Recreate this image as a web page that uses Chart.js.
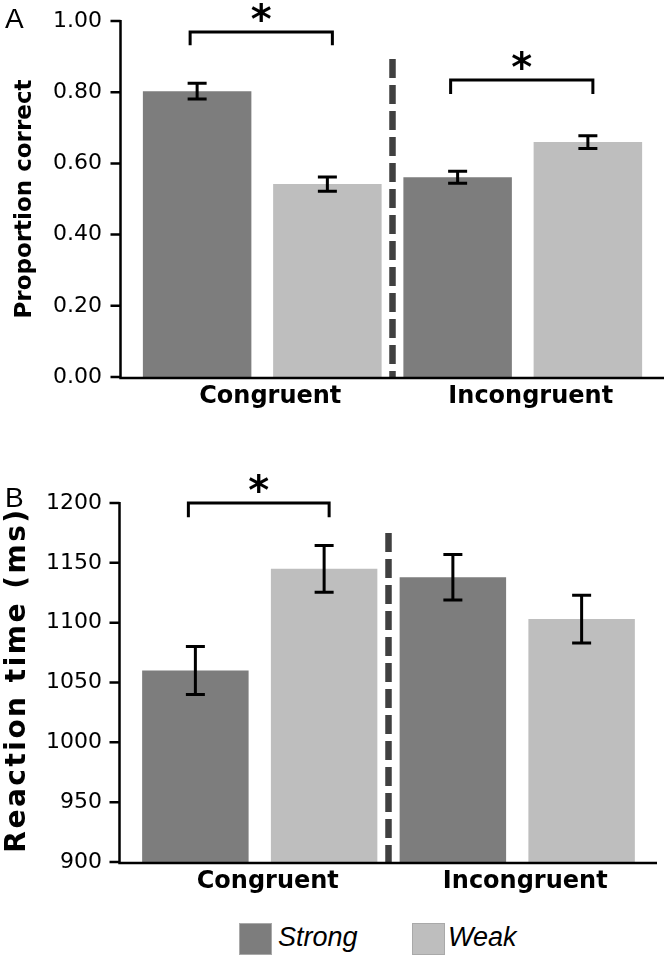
<!DOCTYPE html>
<html><head><meta charset="utf-8">
<script src="https://cdn.jsdelivr.net/npm/chart.js@4.4.1/dist/chart.umd.min.js"></script>
<style>
html,body{margin:0;padding:0;background:#fff;overflow:hidden;width:666px;height:960px;}
#wrap{position:relative;width:666px;height:960px;}
canvas{position:absolute;left:0;display:block;}
#cA{top:0;} #cB{top:440px;}
.lg-box{position:absolute;width:33px;height:32px;box-sizing:border-box;border:1px solid #a9a9a9;}
.lg-txt{position:absolute;font:italic 27px "Liberation Sans",Arial,sans-serif;line-height:27px;color:#000;white-space:nowrap;}
</style></head><body>
<div id="wrap">
<canvas id="cA" width="666" height="430"></canvas>
<canvas id="cB" width="666" height="480"></canvas>
<div id="legend"></div>
</div>
<script>
// ---------------- data ----------------
const categories = ['Congruent', 'Incongruent'];
const seriesNames = ['Strong', 'Weak'];
// Panel A: proportion correct
const propStrong = [0.803, 0.561];
const propWeak = [0.542, 0.660];
const propStrongErr = [0.022, 0.017];
const propWeakErr = [0.020, 0.018];
const propTickLabels = ['0.00', '0.20', '0.40', '0.60', '0.80', '1.00'];
// Panel B: reaction time (ms)
const rtStrong = [1060, 1138];
const rtWeak = [1145, 1103];
const rtStrongErr = [20, 19];
const rtWeakErr = [19.5, 20];
const rtTickLabels = ['900', '950', '1000', '1050', '1100', '1150', '1200'];
// significance brackets (category index, bracket level, leg drop) and separator tops
const sigA = [{category: 0, level: 0.969, drop: 0.037}, {category: 1, level: 0.834, drop: 0.039}];
const sigB = [{category: 0, level: 1200, drop: 12}];
const sepTopA = 0.893;
const sepTopB = 1175;

// ---------------- styles ----------------
const COL_STRONG = '#7d7d7d';
const COL_WEAK = '#bebebe';
Chart.defaults.font.family = '"DejaVu Sans"';
Chart.defaults.color = '#000';

function figurePlugin(cfg) {
  return {
    id: 'figure' + cfg.letter,
    afterDatasetsDraw(chart) {
      const {ctx, chartArea} = chart;
      const xs = chart.scales.x, ys = chart.scales.y;
      ctx.save();
      // dashed separator between categories
      const sepX = (xs.getPixelForValue(0) + xs.getPixelForValue(1)) / 2;
      ctx.strokeStyle = '#404040';
      ctx.lineWidth = 6.5;
      ctx.setLineDash([19, 7]);
      ctx.beginPath();
      ctx.moveTo(sepX, ys.getPixelForValue(cfg.sepTop));
      ctx.lineTo(sepX, chartArea.bottom);
      ctx.stroke();
      ctx.setLineDash([]);
      // error bars
      ctx.strokeStyle = '#000';
      ctx.lineWidth = 3;
      cfg.errors.forEach((errs, di) => {
        const meta = chart.getDatasetMeta(di);
        const vals = chart.data.datasets[di].data;
        meta.data.forEach((bar, j) => {
          const yT = ys.getPixelForValue(vals[j] + errs[j]);
          const yB = ys.getPixelForValue(vals[j] - errs[j]);
          const x = bar.x;
          ctx.beginPath();
          ctx.moveTo(x, yT); ctx.lineTo(x, yB);
          ctx.moveTo(x - 9.5, yT); ctx.lineTo(x + 9.5, yT);
          ctx.moveTo(x - 9.5, yB); ctx.lineTo(x + 9.5, yB);
          ctx.stroke();
        });
      });
      // axes
      const ax = chartArea.left - 11.5;
      ctx.lineWidth = 2.5;
      ctx.beginPath();
      ctx.moveTo(ax, ys.getPixelForValue(ys.max) - 1);
      ctx.lineTo(ax, chartArea.bottom + 1.25);
      ys.ticks.forEach(t => {
        const y = ys.getPixelForValue(t.value);
        ctx.moveTo(ax - 10, y); ctx.lineTo(ax, y);
      });
      ctx.moveTo(ax - 1.25, chartArea.bottom + 1);
      ctx.lineTo(chartArea.right + 11, chartArea.bottom + 1);
      ctx.stroke();
      // significance brackets and stars
      ctx.lineWidth = 3;
      cfg.sig.forEach(s => {
        const xL = chart.getDatasetMeta(0).data[s.category].x - 7;
        const xR = chart.getDatasetMeta(1).data[s.category].x + 5;
        const yL = ys.getPixelForValue(s.level);
        const yD = ys.getPixelForValue(s.level - s.drop);
        ctx.beginPath();
        ctx.moveTo(xL, yD); ctx.lineTo(xL, yL); ctx.lineTo(xR, yL); ctx.lineTo(xR, yD);
        ctx.stroke();
        ctx.font = 'bold 40px "DejaVu Sans"';
        ctx.textAlign = 'center';
        ctx.textBaseline = 'alphabetic';
        ctx.fillStyle = '#000';
        ctx.fillText('*', (xL + xR) / 2, yL + 1);
      });
      // panel letter
      ctx.font = '28px "Liberation Sans"';
      ctx.textAlign = 'left';
      ctx.textBaseline = 'alphabetic';
      ctx.fillStyle = '#000';
      ctx.fillText(cfg.letter, 5, cfg.letterY);
      // custom axis title
      if (cfg.customTitle) {
        ctx.translate(cfg.customTitle.x, cfg.customTitle.y);
        ctx.rotate(-Math.PI / 2);
        ctx.font = 'bold 28px "DejaVu Sans"';
        if ('letterSpacing' in ctx) ctx.letterSpacing = '2.5px';
        ctx.textAlign = 'center';
        ctx.fillText(cfg.customTitle.text, 0, 0);
      }
      ctx.restore();
    }
  };
}

function xScale(h) {
  return {
    grid: {display: false, drawTicks: false},
    border: {display: false},
    ticks: {font: {size: 24, weight: 'bold'}, color: '#000', padding: 5, labelOffset: 8, maxRotation: 0, autoSkip: false},
    afterFit(s) { s.height = h; s.paddingLeft = 0; s.paddingRight = 0; }
  };
}
function yFit(w) {
  return function (s) { s.width = w; s.paddingTop = 0; s.paddingBottom = 0; };
}

new Chart(document.getElementById('cA'), {
  type: 'bar',
  data: {
    labels: categories,
    datasets: [
      {label: seriesNames[0], data: propStrong, backgroundColor: COL_STRONG, categoryPercentage: 1.0, barPercentage: 0.833},
      {label: seriesNames[1], data: propWeak, backgroundColor: COL_WEAK, categoryPercentage: 1.0, barPercentage: 0.833}
    ]
  },
  options: {
    responsive: false, animation: false, events: [],
    layout: {padding: {top: 21, left: 7, right: 13, bottom: 0}},
    plugins: {legend: {display: false}, tooltip: {enabled: false}},
    scales: {
      x: xScale(53),
      y: {
        min: 0, max: 1,
        grid: {display: false, drawTicks: false},
        border: {display: false},
        ticks: {stepSize: 0.2, padding: 30, font: {size: 22}, color: '#000', callback: (v, i) => propTickLabels[i]},
        title: {display: true, text: 'Proportion correct', font: {size: 23, weight: 'bold'}, color: '#000', padding: {top: 4, bottom: 0}},
        afterFit: yFit(125)
      }
    }
  },
  plugins: [figurePlugin({letter: 'A', letterY: 28, sepTop: sepTopA, errors: [propStrongErr, propWeakErr], sig: sigA})]
});

new Chart(document.getElementById('cB'), {
  type: 'bar',
  data: {
    labels: categories,
    datasets: [
      {label: seriesNames[0], data: rtStrong, backgroundColor: COL_STRONG, categoryPercentage: 1.0, barPercentage: 0.827},
      {label: seriesNames[1], data: rtWeak, backgroundColor: COL_WEAK, categoryPercentage: 1.0, barPercentage: 0.827}
    ]
  },
  options: {
    responsive: false, animation: false, events: [],
    layout: {padding: {top: 63, left: 7, right: 20, bottom: 0}},
    plugins: {legend: {display: false}, tooltip: {enabled: false}},
    scales: {
      x: xScale(58),
      y: {
        min: 900, max: 1200,
        grid: {display: false, drawTicks: false},
        border: {display: false},
        ticks: {stepSize: 50, padding: 29, font: {size: 22}, color: '#000', callback: (v, i) => rtTickLabels[i]},
        title: {display: false},
        afterFit: yFit(124)
      }
    }
  },
  plugins: [figurePlugin({letter: 'B', letterY: 67, sepTop: sepTopB, errors: [rtStrongErr, rtWeakErr], sig: sigB,
    customTitle: {text: 'Reaction time (ms)', x: 25, y: 240}})]
});

// legend (shared by both panels)
const legend = document.getElementById('legend');
const legendPos = [{box: 239, txt: 278}, {box: 412, txt: 448}];
[COL_STRONG, COL_WEAK].forEach((c, i) => {
  const b = document.createElement('div');
  b.className = 'lg-box';
  b.style.left = legendPos[i].box + 'px';
  b.style.top = '923px';
  b.style.background = c;
  legend.appendChild(b);
  const t = document.createElement('div');
  t.className = 'lg-txt';
  t.style.left = legendPos[i].txt + 'px';
  t.style.top = '924px';
  t.textContent = seriesNames[i];
  legend.appendChild(t);
});
</script>
</body></html>
